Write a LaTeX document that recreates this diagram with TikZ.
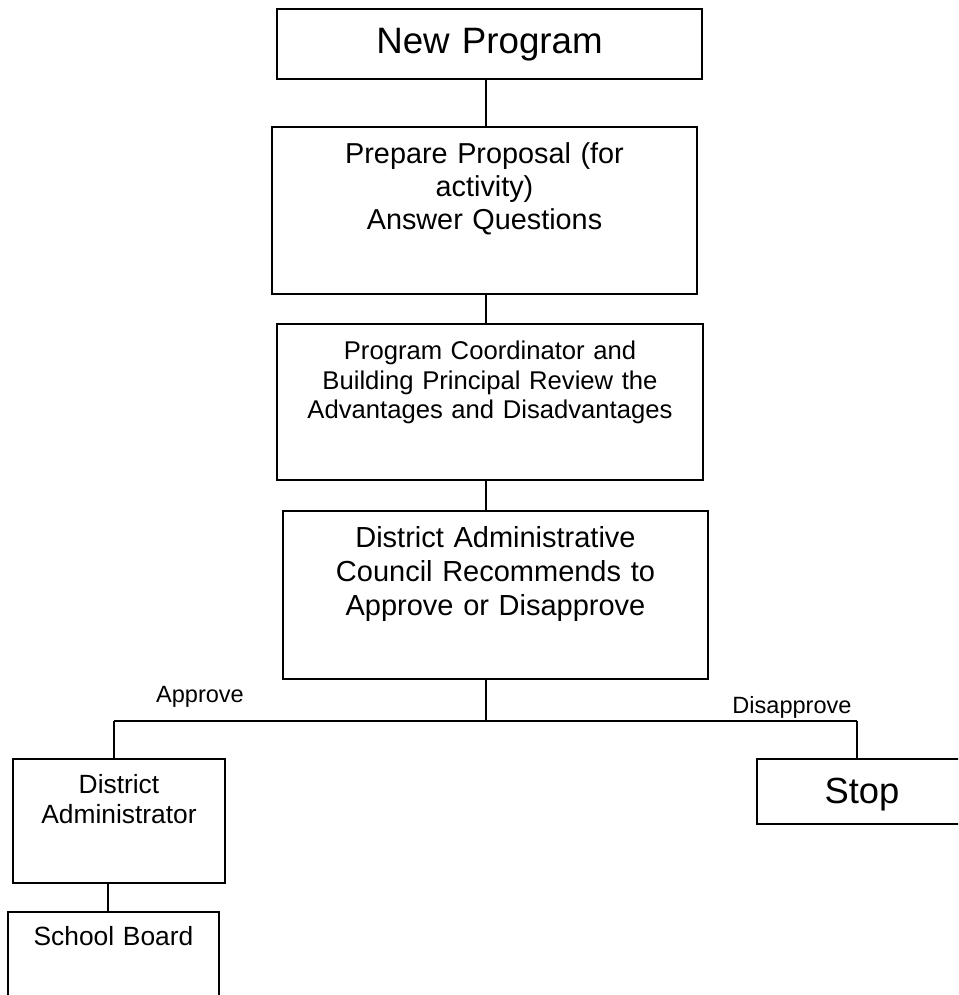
\documentclass[tikz,border=0pt]{standalone}
\usepackage{fontspec}
\setmainfont{Liberation Sans}
\usepackage{tikz}

\tikzset{
  box/.style n args={3}{draw=black, line width=1.05pt, inner sep=0pt, anchor=north, align=center,
                        text width=#1, text height=#2, text depth=#3},
  link/.style={draw=black, line width=1.7pt},
  rail/.style={draw=black, line width=0.85pt},
  branch/.style={anchor=base, inner sep=0pt, font=\fontsize{13.4}{16}\selectfont}
}

\begin{document}
\begin{tikzpicture}[x=0.02cm, y=-0.02cm]
\useasboundingbox (0,0) rectangle (958,995);
\clip (0,0) rectangle (958,995);

% steps of the review
\node[box={8.5cm}{0.9cm}{0.5cm},   font=\fontsize{20.9}{24}\selectfont]     (newProgram) at (489.5,8) {New Program};
\node[box={8.5cm}{0.74cm}{2.6cm},  font=\fontsize{16.4}{18.7}\selectfont]   (prepare)    at (484.5,126)
      {Prepare Proposal (for\\activity)\\Answer Questions};
\node[box={8.52cm}{0.72cm}{2.4cm}, font=\fontsize{14.6}{16.6}\selectfont]   (review)     at (490,323)
      {Program Coordinator and\\Building Principal Review the\\Advantages and Disadvantages};
\node[box={8.5cm}{0.74cm}{2.62cm}, font=\fontsize{16.5}{19.3}\selectfont]   (council)    at (495.5,510)
      {District Administrative\\Council Recommends to\\Approve or Disapprove};

% outcomes
\node[box={4.24cm}{0.7cm}{1.78cm}, font=\fontsize{15}{17}\selectfont]       (distAdmin)   at (119,758) {District\\Administrator};
\node[box={4.22cm}{0.68cm}{1.8cm}, font=\fontsize{15}{17}\selectfont]       (schoolBoard) at (113.5,911) {School Board};
\node[box={4.2cm}{0.9cm}{0.4cm},   font=\fontsize{20.7}{24}\selectfont]     (stop)        at (862,758) {Stop};

\coordinate (spine) at (486,0);
\coordinate (split) at (486,721);
\coordinate (approveTurn) at (114,721);
\coordinate (disapproveTurn) at (857,721);
\coordinate (boardLink) at (108,0);

\draw[link] (spine |- newProgram.south) -- (spine |- prepare.north);
\draw[link] (spine |- prepare.south)    -- (spine |- review.north);
\draw[link] (spine |- review.south)     -- (spine |- council.north);
\draw[link] (spine |- council.south)    -- (split);

\draw[rail] (approveTurn) -- (disapproveTurn);
\draw[link] (approveTurn)    -- (approveTurn |- distAdmin.north);
\draw[link] (disapproveTurn) -- (disapproveTurn |- stop.north);
\draw[link] (boardLink |- distAdmin.south) -- (boardLink |- schoolBoard.north);

\node[branch] (approveLabel)    at (200,702) {Approve};
\node[branch] (disapproveLabel) at (792,713) {Disapprove};
\end{tikzpicture}
\end{document}
